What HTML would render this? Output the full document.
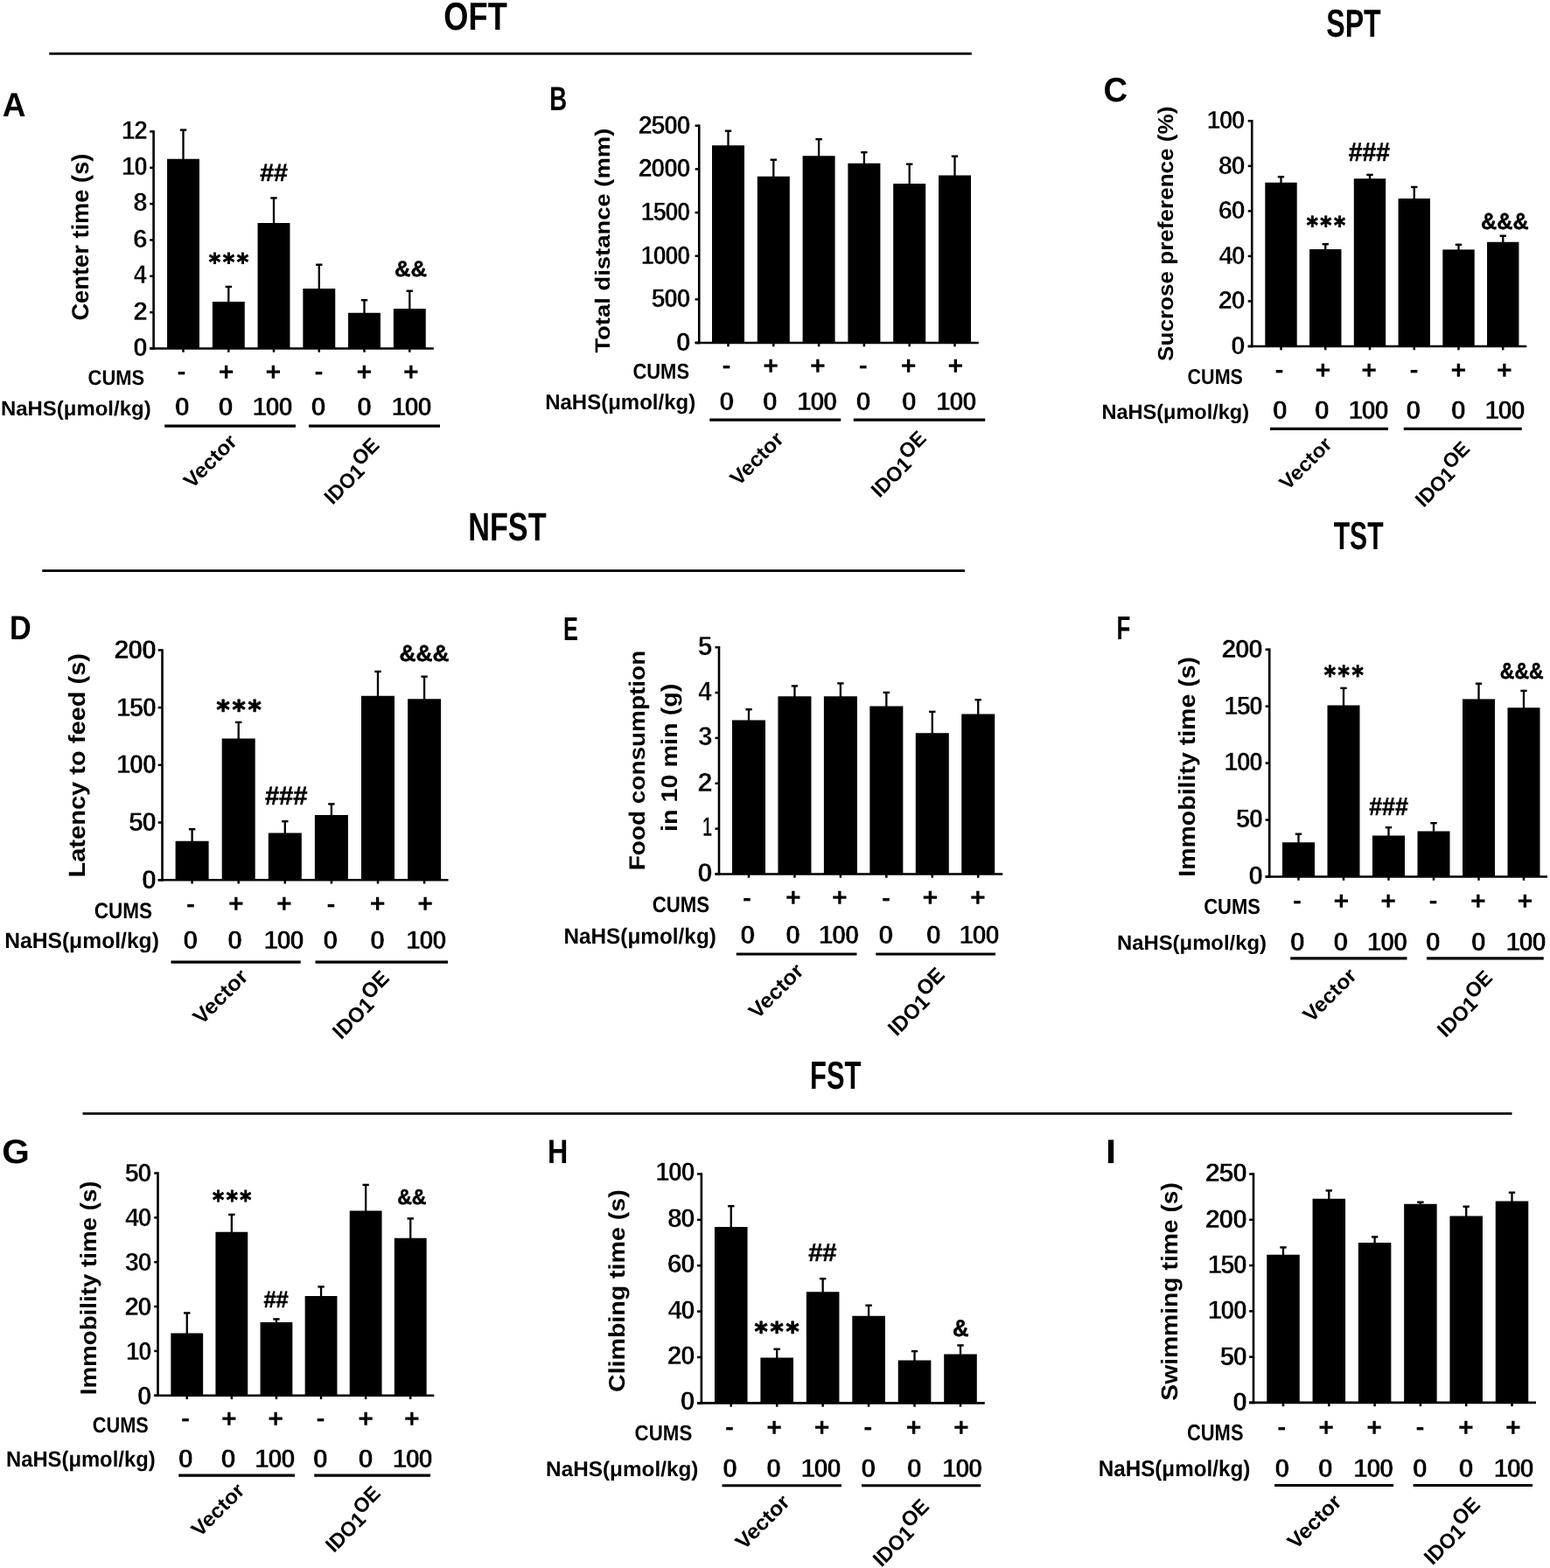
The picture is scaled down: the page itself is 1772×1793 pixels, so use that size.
<!DOCTYPE html>
<html lang="en">
<head>
<meta charset="utf-8">
<title>Behavioural tests: OFT, SPT, NFST, TST, FST</title>
<style>
html, body { margin: 0; padding: 0; background: #fff; }
body { width: 1772px; height: 1793px; }
svg { display: block; }
svg text { font-family: 'Liberation Sans', Arial, sans-serif; font-weight: bold; fill: #000; text-rendering: geometricPrecision; }
svg text.dv { font-family: 'DejaVu Sans', 'Liberation Sans', sans-serif; stroke: #000; stroke-width: 0.9px; stroke-linejoin: miter; }
svg text.an { stroke: #000; stroke-width: 0.5px; }
svg text.dg { stroke: #fff; stroke-width: 0.5px; }
svg line { stroke: #000; fill: none; }
svg rect { fill: #000; }
</style>
</head>
<body>
<svg width="1772" height="1793" viewBox="0 0 1772 1793" role="img" aria-label="Bar charts A to I: OFT, SPT, NFST, TST and FST behavioural tests">
<text transform="translate(507.35 33.65) scale(0.8116 1)" font-size="44.66">OFT</text>
<line x1="56.25" y1="61.3" x2="1110.75" y2="61.3" stroke-width="2.8"/>
<text transform="translate(1516.24 42.45) scale(0.7170 1)" font-size="44.81">SPT</text>
<text transform="translate(535.19 617.54) scale(0.7531 1)" font-size="45.51">NFST</text>
<line x1="48.25" y1="652.6" x2="1103" y2="652.6" stroke-width="2.8"/>
<text transform="translate(1524.7 628.25) scale(0.6716 1)" font-size="44.81">TST</text>
<text transform="translate(926.02 1244.75) scale(0.6871 1)" font-size="44.95">FST</text>
<line x1="94.5" y1="1273.4" x2="1728.5" y2="1273.4" stroke-width="2.8"/>
<g id="panel-A">
<line x1="175.6" y1="149.15" x2="175.6" y2="399.8" stroke-width="2.6"/>
<line x1="171.2" y1="398.5" x2="495.8" y2="398.5" stroke-width="2.6"/>
<line x1="171.2" y1="150.4" x2="175.6" y2="150.4" stroke-width="2.5"/>
<text transform="translate(139.07 158.82) scale(0.9445 1)" font-size="29.74" letter-spacing="-1.64" class="dg">12</text>
<line x1="171.2" y1="191.75" x2="175.6" y2="191.75" stroke-width="2.5"/>
<text transform="translate(139.06 199.88) scale(0.9606 1)" font-size="29.32" letter-spacing="-1.61" class="dg">10</text>
<line x1="171.2" y1="233.1" x2="175.6" y2="233.1" stroke-width="2.5"/>
<text transform="translate(152.23 241.23) scale(1.0015 1)" font-size="29.32" letter-spacing="-1.61" class="dg">8</text>
<line x1="171.2" y1="274.45" x2="175.6" y2="274.45" stroke-width="2.5"/>
<text transform="translate(152.06 282.58) scale(1.0222 1)" font-size="29.32" letter-spacing="-1.61" class="dg">6</text>
<line x1="171.2" y1="315.8" x2="175.6" y2="315.8" stroke-width="2.5"/>
<text transform="translate(152.78 324.22) scale(0.8959 1)" font-size="30.17" letter-spacing="-1.66" class="dg">4</text>
<line x1="171.2" y1="357.15" x2="175.6" y2="357.15" stroke-width="2.5"/>
<text transform="translate(152.14 365.57) scale(1.0078 1)" font-size="29.74" letter-spacing="-1.64" class="dg">2</text>
<line x1="171.2" y1="398.5" x2="175.6" y2="398.5" stroke-width="2.5"/>
<text transform="translate(151.97 406.63) scale(1.0384 1)" font-size="29.32" letter-spacing="-1.61" class="dg">0</text>
<rect x="191.05" y="181.75" width="36.9" height="216.75"/>
<line x1="209.5" y1="148.35" x2="209.5" y2="182.75" stroke-width="2.3"/>
<line x1="205.8" y1="148.6" x2="213.2" y2="148.6" stroke-width="2.4"/>
<line x1="209.5" y1="398.5" x2="209.5" y2="402.8" stroke-width="2.5"/>
<rect x="242.85" y="345" width="36.9" height="53.5"/>
<line x1="261.3" y1="327.65" x2="261.3" y2="346" stroke-width="2.3"/>
<line x1="257.6" y1="327.9" x2="265" y2="327.9" stroke-width="2.4"/>
<line x1="261.3" y1="398.5" x2="261.3" y2="402.8" stroke-width="2.5"/>
<rect x="294.55" y="255" width="36.9" height="143.5"/>
<line x1="313" y1="226.15" x2="313" y2="256" stroke-width="2.3"/>
<line x1="309.3" y1="226.4" x2="316.7" y2="226.4" stroke-width="2.4"/>
<line x1="313" y1="398.5" x2="313" y2="402.8" stroke-width="2.5"/>
<rect x="346.35" y="330" width="36.9" height="68.5"/>
<line x1="364.8" y1="302.45" x2="364.8" y2="331" stroke-width="2.3"/>
<line x1="361.1" y1="302.7" x2="368.5" y2="302.7" stroke-width="2.4"/>
<line x1="364.8" y1="398.5" x2="364.8" y2="402.8" stroke-width="2.5"/>
<rect x="398.05" y="357.75" width="36.9" height="40.75"/>
<line x1="416.5" y1="342.95" x2="416.5" y2="358.75" stroke-width="2.3"/>
<line x1="412.8" y1="343.2" x2="420.2" y2="343.2" stroke-width="2.4"/>
<line x1="416.5" y1="398.5" x2="416.5" y2="402.8" stroke-width="2.5"/>
<rect x="449.85" y="353" width="36.9" height="45.5"/>
<line x1="468.3" y1="332.45" x2="468.3" y2="354" stroke-width="2.3"/>
<line x1="464.6" y1="332.7" x2="472" y2="332.7" stroke-width="2.4"/>
<line x1="468.3" y1="398.5" x2="468.3" y2="402.8" stroke-width="2.5"/>
<text transform="translate(297.15 207.35) scale(1.0173 1)" font-size="28.24" class="an">##</text>
<text transform="translate(238.64 308.51) scale(0.9561 1)" font-size="26.88" letter-spacing="2.69" class="dv">***</text>
<text transform="translate(451.06 315.6) scale(1.0198 1)" font-size="25.2" class="an">&amp;&amp;</text>
<text transform="translate(2.67 133.3) scale(0.9603 1)" font-size="38.55">A</text>
<text transform="translate(101.19 366.59) rotate(-90) scale(1.0100 1)" font-size="27.02">Center time (s)</text>
<text transform="translate(100.62 440.06) scale(0.9084 1)" font-size="24.17">CUMS</text>
<text transform="translate(0.88 474.61) scale(1.0209 1)" font-size="23.47">NaHS(μmol/kg)</text>
<text transform="translate(202.4 434.07) scale(1.0623 1)" font-size="28.33">-</text>
<text transform="translate(249.81 434.68) scale(1.0336 1)" font-size="29.41">+</text>
<text transform="translate(303.61 434.68) scale(1.0336 1)" font-size="29.41">+</text>
<text transform="translate(359.5 434.07) scale(1.0623 1)" font-size="28.33">-</text>
<text transform="translate(407.61 434.68) scale(1.0336 1)" font-size="29.41">+</text>
<text transform="translate(461.11 434.68) scale(1.0336 1)" font-size="29.41">+</text>
<text transform="translate(199.48 475.36) scale(1.0813 1)" font-size="29.4" class="dg">0</text>
<text transform="translate(249.18 475.36) scale(1.0813 1)" font-size="29.4" class="dg">0</text>
<text transform="translate(288.37 475.36) scale(1.0240 1)" font-size="29.4" letter-spacing="-1.76" class="dg">100</text>
<text transform="translate(355.18 475.36) scale(1.0813 1)" font-size="29.4" class="dg">0</text>
<text transform="translate(407.68 475.36) scale(1.0813 1)" font-size="29.4" class="dg">0</text>
<text transform="translate(447.37 475.36) scale(1.0240 1)" font-size="29.4" letter-spacing="-1.76" class="dg">100</text>
<line x1="188.2" y1="487.1" x2="338" y2="487.1" stroke-width="3.2"/>
<line x1="353" y1="487.1" x2="503" y2="487.1" stroke-width="3.2"/>
<text transform="translate(219.43 559.43) rotate(-45) scale(1.0400 1)" font-size="23.54">Vector</text>
<text transform="translate(380.23 577.89) rotate(-45) scale(0.9720 1)" font-size="23.54">IDO1<tspan dy="-8.98">OE</tspan></text>
</g>
<g id="panel-B">
<line x1="799.25" y1="142.5" x2="799.25" y2="393.3" stroke-width="2.6"/>
<line x1="794.6" y1="392" x2="1118.75" y2="392" stroke-width="2.6"/>
<line x1="794.6" y1="143.75" x2="799.25" y2="143.75" stroke-width="2.5"/>
<text transform="translate(729.83 152.81) scale(0.9865 1)" font-size="29.4" letter-spacing="-1.62" class="dg">2500</text>
<line x1="794.6" y1="193.4" x2="799.25" y2="193.4" stroke-width="2.5"/>
<text transform="translate(729.83 202.46) scale(0.9865 1)" font-size="29.4" letter-spacing="-1.62" class="dg">2000</text>
<line x1="794.6" y1="243.05" x2="799.25" y2="243.05" stroke-width="2.5"/>
<text transform="translate(732.62 252.11) scale(0.9395 1)" font-size="29.4" letter-spacing="-1.62" class="dg">1500</text>
<line x1="794.6" y1="292.7" x2="799.25" y2="292.7" stroke-width="2.5"/>
<text transform="translate(732.62 301.76) scale(0.9395 1)" font-size="29.4" letter-spacing="-1.62" class="dg">1000</text>
<line x1="794.6" y1="342.35" x2="799.25" y2="342.35" stroke-width="2.5"/>
<text transform="translate(744.48 351.41) scale(0.9833 1)" font-size="29.4" letter-spacing="-1.62" class="dg">500</text>
<line x1="794.6" y1="392" x2="799.25" y2="392" stroke-width="2.5"/>
<text transform="translate(772.63 401.06) scale(1.0383 1)" font-size="29.4" letter-spacing="-1.62" class="dg">0</text>
<rect x="814" y="166.25" width="37" height="225.75"/>
<line x1="832.5" y1="149.45" x2="832.5" y2="167.25" stroke-width="2.3"/>
<line x1="828.8" y1="149.7" x2="836.2" y2="149.7" stroke-width="2.4"/>
<line x1="832.5" y1="392" x2="832.5" y2="396.3" stroke-width="2.5"/>
<rect x="865.8" y="201.75" width="37" height="190.25"/>
<line x1="884.3" y1="182.45" x2="884.3" y2="202.75" stroke-width="2.3"/>
<line x1="880.6" y1="182.7" x2="888" y2="182.7" stroke-width="2.4"/>
<line x1="884.3" y1="392" x2="884.3" y2="396.3" stroke-width="2.5"/>
<rect x="917.6" y="178.25" width="37" height="213.75"/>
<line x1="936.1" y1="158.95" x2="936.1" y2="179.25" stroke-width="2.3"/>
<line x1="932.4" y1="159.2" x2="939.8" y2="159.2" stroke-width="2.4"/>
<line x1="936.1" y1="392" x2="936.1" y2="396.3" stroke-width="2.5"/>
<rect x="969.4" y="186.75" width="37" height="205.25"/>
<line x1="987.9" y1="173.95" x2="987.9" y2="187.75" stroke-width="2.3"/>
<line x1="984.2" y1="174.2" x2="991.6" y2="174.2" stroke-width="2.4"/>
<line x1="987.9" y1="392" x2="987.9" y2="396.3" stroke-width="2.5"/>
<rect x="1021.2" y="210" width="37" height="182"/>
<line x1="1039.7" y1="187.45" x2="1039.7" y2="211" stroke-width="2.3"/>
<line x1="1036" y1="187.7" x2="1043.4" y2="187.7" stroke-width="2.4"/>
<line x1="1039.7" y1="392" x2="1039.7" y2="396.3" stroke-width="2.5"/>
<rect x="1073" y="200.5" width="37" height="191.5"/>
<line x1="1091.5" y1="178.45" x2="1091.5" y2="201.5" stroke-width="2.3"/>
<line x1="1087.8" y1="178.7" x2="1095.2" y2="178.7" stroke-width="2.4"/>
<line x1="1091.5" y1="392" x2="1091.5" y2="396.3" stroke-width="2.5"/>
<text transform="translate(628.34 125.5) scale(0.7145 1)" font-size="38.55">B</text>
<text transform="translate(697.16 403.62) rotate(-90) scale(1.1522 1)" font-size="23.81">Total distance (mm)</text>
<text transform="translate(723.42 432.95) scale(0.8927 1)" font-size="24.59">CUMS</text>
<text transform="translate(623.18 467.51) scale(0.9822 1)" font-size="24.43">NaHS(μmol/kg)</text>
<text transform="translate(825.5 427.07) scale(1.0623 1)" font-size="28.33">-</text>
<text transform="translate(872.36 427.68) scale(1.0336 1)" font-size="29.41">+</text>
<text transform="translate(926.11 427.68) scale(1.0336 1)" font-size="29.41">+</text>
<text transform="translate(981.75 427.07) scale(1.0623 1)" font-size="28.33">-</text>
<text transform="translate(1029.86 427.68) scale(1.0336 1)" font-size="29.41">+</text>
<text transform="translate(1083.61 427.68) scale(1.0336 1)" font-size="29.41">+</text>
<text transform="translate(822.08 469.25) scale(1.0761 1)" font-size="29.54" class="dg">0</text>
<text transform="translate(871.58 469.25) scale(1.0761 1)" font-size="29.54" class="dg">0</text>
<text transform="translate(910.97 469.25) scale(1.0191 1)" font-size="29.54" letter-spacing="-1.77" class="dg">100</text>
<text transform="translate(978.28 469.25) scale(1.0761 1)" font-size="29.54" class="dg">0</text>
<text transform="translate(1030.58 469.25) scale(1.0761 1)" font-size="29.54" class="dg">0</text>
<text transform="translate(1070.12 469.25) scale(1.0191 1)" font-size="29.54" letter-spacing="-1.77" class="dg">100</text>
<line x1="811.25" y1="480.2" x2="961.25" y2="480.2" stroke-width="3.2"/>
<line x1="975.75" y1="480.2" x2="1126.25" y2="480.2" stroke-width="3.2"/>
<text transform="translate(844.18 556.62) rotate(-45) scale(1.0400 1)" font-size="23.6">Vector</text>
<text transform="translate(1005.42 570.1) rotate(-45) scale(0.9720 1)" font-size="23.6">IDO1<tspan dy="-9">OE</tspan></text>
</g>
<g id="panel-C">
<line x1="1431.25" y1="137.05" x2="1431.25" y2="397.3" stroke-width="2.6"/>
<line x1="1426.7" y1="396" x2="1745.25" y2="396" stroke-width="2.6"/>
<line x1="1426.7" y1="138.3" x2="1431.25" y2="138.3" stroke-width="2.5"/>
<text transform="translate(1379.55 147.1) scale(0.9770 1)" font-size="28.93" letter-spacing="-1.59" class="dg">100</text>
<line x1="1426.7" y1="189.84" x2="1431.25" y2="189.84" stroke-width="2.5"/>
<text transform="translate(1392.87 198.64) scale(1.0073 1)" font-size="28.93" letter-spacing="-1.59" class="dg">80</text>
<line x1="1426.7" y1="241.38" x2="1431.25" y2="241.38" stroke-width="2.5"/>
<text transform="translate(1392.72 250.18) scale(1.0125 1)" font-size="28.93" letter-spacing="-1.59" class="dg">60</text>
<line x1="1426.7" y1="292.92" x2="1431.25" y2="292.92" stroke-width="2.5"/>
<text transform="translate(1393.38 301.72) scale(0.9897 1)" font-size="28.93" letter-spacing="-1.59" class="dg">40</text>
<line x1="1426.7" y1="344.46" x2="1431.25" y2="344.46" stroke-width="2.5"/>
<text transform="translate(1392.79 353.26) scale(1.0099 1)" font-size="28.93" letter-spacing="-1.59" class="dg">20</text>
<line x1="1426.7" y1="396" x2="1431.25" y2="396" stroke-width="2.5"/>
<text transform="translate(1406.98 404.8) scale(1.0385 1)" font-size="28.93" letter-spacing="-1.59" class="dg">0</text>
<rect x="1446.3" y="208.75" width="36.4" height="187.25"/>
<line x1="1464.5" y1="201.95" x2="1464.5" y2="209.75" stroke-width="2.3"/>
<line x1="1460.8" y1="202.2" x2="1468.2" y2="202.2" stroke-width="2.4"/>
<line x1="1464.5" y1="396" x2="1464.5" y2="400.3" stroke-width="2.5"/>
<rect x="1497.05" y="285" width="36.4" height="111"/>
<line x1="1515.25" y1="278.95" x2="1515.25" y2="286" stroke-width="2.3"/>
<line x1="1511.55" y1="279.2" x2="1518.95" y2="279.2" stroke-width="2.4"/>
<line x1="1515.25" y1="396" x2="1515.25" y2="400.3" stroke-width="2.5"/>
<rect x="1547.8" y="204.25" width="36.4" height="191.75"/>
<line x1="1566" y1="199.65" x2="1566" y2="205.25" stroke-width="2.3"/>
<line x1="1562.3" y1="199.9" x2="1569.7" y2="199.9" stroke-width="2.4"/>
<line x1="1566" y1="396" x2="1566" y2="400.3" stroke-width="2.5"/>
<rect x="1598.55" y="227" width="36.4" height="169"/>
<line x1="1616.75" y1="213.65" x2="1616.75" y2="228" stroke-width="2.3"/>
<line x1="1613.05" y1="213.9" x2="1620.45" y2="213.9" stroke-width="2.4"/>
<line x1="1616.75" y1="396" x2="1616.75" y2="400.3" stroke-width="2.5"/>
<rect x="1649.3" y="285.4" width="36.4" height="110.6"/>
<line x1="1667.5" y1="279.55" x2="1667.5" y2="286.4" stroke-width="2.3"/>
<line x1="1663.8" y1="279.8" x2="1671.2" y2="279.8" stroke-width="2.4"/>
<line x1="1667.5" y1="396" x2="1667.5" y2="400.3" stroke-width="2.5"/>
<rect x="1700.05" y="276.75" width="36.4" height="119.25"/>
<line x1="1718.25" y1="269.45" x2="1718.25" y2="277.75" stroke-width="2.3"/>
<line x1="1714.55" y1="269.7" x2="1721.95" y2="269.7" stroke-width="2.4"/>
<line x1="1718.25" y1="396" x2="1718.25" y2="400.3" stroke-width="2.5"/>
<text transform="translate(1541.65 184.35) scale(0.9447 1)" font-size="30.07" class="an">###</text>
<text transform="translate(1493.8 267) scale(0.9182 1)" font-size="27.2" letter-spacing="2.72" class="dv">***</text>
<text transform="translate(1693.08 262.09) scale(0.9589 1)" font-size="26.26" class="an">&amp;&amp;&amp;</text>
<text transform="translate(1261.47 115.71) scale(0.9859 1)" font-size="38.87">C</text>
<text transform="translate(1340.74 412.88) rotate(-90) scale(1.0596 1)" font-size="24.61">Sucrose preference (%)</text>
<text transform="translate(1357.54 438.56) scale(0.8807 1)" font-size="24.45">CUMS</text>
<text transform="translate(1259.41 478.65) scale(0.9893 1)" font-size="23.79">NaHS(μmol/kg)</text>
<text transform="translate(1457.5 432.37) scale(1.0623 1)" font-size="28.33">-</text>
<text transform="translate(1503.61 432.98) scale(1.0336 1)" font-size="29.41">+</text>
<text transform="translate(1556.36 432.98) scale(1.0336 1)" font-size="29.41">+</text>
<text transform="translate(1611.5 432.37) scale(1.0623 1)" font-size="28.33">-</text>
<text transform="translate(1658.51 432.98) scale(1.0336 1)" font-size="29.41">+</text>
<text transform="translate(1711.01 432.98) scale(1.0336 1)" font-size="29.41">+</text>
<text transform="translate(1454.58 479.35) scale(1.0659 1)" font-size="29.82" class="dg">0</text>
<text transform="translate(1502.58 479.35) scale(1.0659 1)" font-size="29.82" class="dg">0</text>
<text transform="translate(1541.27 479.35) scale(1.0094 1)" font-size="29.82" letter-spacing="-1.79" class="dg">100</text>
<text transform="translate(1607.08 479.35) scale(1.0659 1)" font-size="29.82" class="dg">0</text>
<text transform="translate(1658.58 479.35) scale(1.0659 1)" font-size="29.82" class="dg">0</text>
<text transform="translate(1697.27 479.35) scale(1.0094 1)" font-size="29.82" letter-spacing="-1.79" class="dg">100</text>
<line x1="1452.1" y1="490.4" x2="1587" y2="490.4" stroke-width="3.2"/>
<line x1="1604.75" y1="490.4" x2="1739.75" y2="490.4" stroke-width="3.2"/>
<text transform="translate(1472.02 561.59) rotate(-45) scale(1.0400 1)" font-size="23.22">Vector</text>
<text transform="translate(1627.48 580.93) rotate(-45) scale(0.9720 1)" font-size="23.22">IDO1<tspan dy="-8.85">OE</tspan></text>
</g>
<g id="panel-D">
<line x1="185.5" y1="742.15" x2="185.5" y2="1007.55" stroke-width="2.6"/>
<line x1="180.7" y1="1006.25" x2="512.5" y2="1006.25" stroke-width="2.6"/>
<line x1="180.7" y1="743.4" x2="185.5" y2="743.4" stroke-width="2.5"/>
<text transform="translate(130.24 752.82) scale(1.0397 1)" font-size="30.17" letter-spacing="-1.66" class="dg">200</text>
<line x1="180.7" y1="809.11" x2="185.5" y2="809.11" stroke-width="2.5"/>
<text transform="translate(133.09 818.53) scale(0.9775 1)" font-size="30.17" letter-spacing="-1.66" class="dg">150</text>
<line x1="180.7" y1="874.83" x2="185.5" y2="874.83" stroke-width="2.5"/>
<text transform="translate(133.09 884.25) scale(0.9775 1)" font-size="30.17" letter-spacing="-1.66" class="dg">100</text>
<line x1="180.7" y1="940.54" x2="185.5" y2="940.54" stroke-width="2.5"/>
<text transform="translate(147.07 949.96) scale(1.0051 1)" font-size="30.17" letter-spacing="-1.66" class="dg">50</text>
<line x1="180.7" y1="1006.25" x2="185.5" y2="1006.25" stroke-width="2.5"/>
<text transform="translate(161.72 1015.67) scale(1.0380 1)" font-size="30.17" letter-spacing="-1.66" class="dg">0</text>
<rect x="200.6" y="961.75" width="38" height="44.5"/>
<line x1="219.6" y1="947.95" x2="219.6" y2="962.75" stroke-width="2.3"/>
<line x1="215.9" y1="948.2" x2="223.3" y2="948.2" stroke-width="2.4"/>
<line x1="219.6" y1="1006.25" x2="219.6" y2="1010.55" stroke-width="2.5"/>
<rect x="253.7" y="844.5" width="38" height="161.75"/>
<line x1="272.7" y1="825.65" x2="272.7" y2="845.5" stroke-width="2.3"/>
<line x1="269" y1="825.9" x2="276.4" y2="825.9" stroke-width="2.4"/>
<line x1="272.7" y1="1006.25" x2="272.7" y2="1010.55" stroke-width="2.5"/>
<rect x="306.8" y="952.5" width="38" height="53.75"/>
<line x1="325.8" y1="938.95" x2="325.8" y2="953.5" stroke-width="2.3"/>
<line x1="322.1" y1="939.2" x2="329.5" y2="939.2" stroke-width="2.4"/>
<line x1="325.8" y1="1006.25" x2="325.8" y2="1010.55" stroke-width="2.5"/>
<rect x="359.9" y="932" width="38" height="74.25"/>
<line x1="378.9" y1="919.15" x2="378.9" y2="933" stroke-width="2.3"/>
<line x1="375.2" y1="919.4" x2="382.6" y2="919.4" stroke-width="2.4"/>
<line x1="378.9" y1="1006.25" x2="378.9" y2="1010.55" stroke-width="2.5"/>
<rect x="413" y="795.75" width="38" height="210.5"/>
<line x1="432" y1="767.65" x2="432" y2="796.75" stroke-width="2.3"/>
<line x1="428.3" y1="767.9" x2="435.7" y2="767.9" stroke-width="2.4"/>
<line x1="432" y1="1006.25" x2="432" y2="1010.55" stroke-width="2.5"/>
<rect x="466.1" y="799.25" width="38" height="207"/>
<line x1="485.1" y1="773.45" x2="485.1" y2="800.25" stroke-width="2.3"/>
<line x1="481.4" y1="773.7" x2="488.8" y2="773.7" stroke-width="2.4"/>
<line x1="485.1" y1="1006.25" x2="485.1" y2="1010.55" stroke-width="2.5"/>
<text transform="translate(247.47 821.5) scale(0.9712 1)" font-size="29.89" letter-spacing="2.99" class="dv">***</text>
<text transform="translate(302.89 919.85) scale(0.9821 1)" font-size="29.71" class="an">###</text>
<text transform="translate(456.53 755.84) scale(1.0044 1)" font-size="26.26" class="an">&amp;&amp;&amp;</text>
<text transform="translate(10.89 731) scale(0.8929 1)" font-size="38.4">D</text>
<text transform="translate(96.6 1003.56) rotate(-90) scale(1.0965 1)" font-size="26.49">Latency to feed (s)</text>
<text transform="translate(107.65 1049.95) scale(0.8919 1)" font-size="25.3">CUMS</text>
<text transform="translate(5.13 1084.34) scale(0.9778 1)" font-size="25.23">NaHS(μmol/kg)</text>
<text transform="translate(212.9 1042.67) scale(1.0623 1)" font-size="28.33">-</text>
<text transform="translate(261.11 1043.28) scale(1.0336 1)" font-size="29.41">+</text>
<text transform="translate(316.11 1043.28) scale(1.0336 1)" font-size="29.41">+</text>
<text transform="translate(373.4 1042.67) scale(1.0623 1)" font-size="28.33">-</text>
<text transform="translate(422.86 1043.28) scale(1.0336 1)" font-size="29.41">+</text>
<text transform="translate(477.36 1043.28) scale(1.0336 1)" font-size="29.41">+</text>
<text transform="translate(209.08 1084.95) scale(1.0710 1)" font-size="29.68" class="dg">0</text>
<text transform="translate(259.68 1084.95) scale(1.0710 1)" font-size="29.68" class="dg">0</text>
<text transform="translate(301.37 1084.95) scale(1.0142 1)" font-size="29.68" letter-spacing="-1.78" class="dg">100</text>
<text transform="translate(369.08 1084.95) scale(1.0710 1)" font-size="29.68" class="dg">0</text>
<text transform="translate(422.68 1084.95) scale(1.0710 1)" font-size="29.68" class="dg">0</text>
<text transform="translate(464.12 1084.95) scale(1.0142 1)" font-size="29.68" letter-spacing="-1.78" class="dg">100</text>
<line x1="195.5" y1="1100.2" x2="343.75" y2="1100.2" stroke-width="3.2"/>
<line x1="360.5" y1="1100.2" x2="512" y2="1100.2" stroke-width="3.2"/>
<text transform="translate(230.41 1172.82) rotate(-45) scale(1.0400 1)" font-size="24.24">Vector</text>
<text transform="translate(390.03 1189.47) rotate(-45) scale(0.9720 1)" font-size="24.24">IDO1<tspan dy="-9.24">OE</tspan></text>
</g>
<g id="panel-E">
<line x1="822" y1="738.95" x2="822" y2="1000.8" stroke-width="2.6"/>
<line x1="817.5" y1="999.5" x2="1146.25" y2="999.5" stroke-width="2.6"/>
<line x1="817.5" y1="740.2" x2="822" y2="740.2" stroke-width="2.5"/>
<text transform="translate(797.67 748.62) scale(0.9771 1)" font-size="30.61" letter-spacing="-1.68" class="dg">5</text>
<line x1="817.5" y1="792.06" x2="822" y2="792.06" stroke-width="2.5"/>
<text transform="translate(798.15 800.78) scale(0.8956 1)" font-size="31.05" letter-spacing="-1.71" class="dg">4</text>
<line x1="817.5" y1="843.92" x2="822" y2="843.92" stroke-width="2.5"/>
<text transform="translate(797.9 852.27) scale(0.9946 1)" font-size="30.07" letter-spacing="-1.65" class="dg">3</text>
<line x1="817.5" y1="895.78" x2="822" y2="895.78" stroke-width="2.5"/>
<text transform="translate(797.49 904.5) scale(1.0075 1)" font-size="30.61" letter-spacing="-1.68" class="dg">2</text>
<line x1="817.5" y1="947.64" x2="822" y2="947.64" stroke-width="2.5"/>
<text transform="translate(802.98 956.36) scale(0.6392 1)" font-size="31.05" letter-spacing="-1.71" class="dg">1</text>
<line x1="817.5" y1="999.5" x2="822" y2="999.5" stroke-width="2.5"/>
<text transform="translate(797.32 1007.92) scale(1.0380 1)" font-size="30.17" letter-spacing="-1.66" class="dg">0</text>
<rect x="837" y="823.5" width="38" height="176"/>
<line x1="856" y1="810.95" x2="856" y2="824.5" stroke-width="2.3"/>
<line x1="852.3" y1="811.2" x2="859.7" y2="811.2" stroke-width="2.4"/>
<line x1="856" y1="999.5" x2="856" y2="1003.8" stroke-width="2.5"/>
<rect x="889.45" y="796.25" width="38" height="203.25"/>
<line x1="908.45" y1="784.15" x2="908.45" y2="797.25" stroke-width="2.3"/>
<line x1="904.75" y1="784.4" x2="912.15" y2="784.4" stroke-width="2.4"/>
<line x1="908.45" y1="999.5" x2="908.45" y2="1003.8" stroke-width="2.5"/>
<rect x="941.9" y="796.25" width="38" height="203.25"/>
<line x1="960.9" y1="781.15" x2="960.9" y2="797.25" stroke-width="2.3"/>
<line x1="957.2" y1="781.4" x2="964.6" y2="781.4" stroke-width="2.4"/>
<line x1="960.9" y1="999.5" x2="960.9" y2="1003.8" stroke-width="2.5"/>
<rect x="994.35" y="807.5" width="38" height="192"/>
<line x1="1013.35" y1="791.65" x2="1013.35" y2="808.5" stroke-width="2.3"/>
<line x1="1009.65" y1="791.9" x2="1017.05" y2="791.9" stroke-width="2.4"/>
<line x1="1013.35" y1="999.5" x2="1013.35" y2="1003.8" stroke-width="2.5"/>
<rect x="1046.8" y="838.25" width="38" height="161.25"/>
<line x1="1065.8" y1="813.65" x2="1065.8" y2="839.25" stroke-width="2.3"/>
<line x1="1062.1" y1="813.9" x2="1069.5" y2="813.9" stroke-width="2.4"/>
<line x1="1065.8" y1="999.5" x2="1065.8" y2="1003.8" stroke-width="2.5"/>
<rect x="1099.25" y="816.5" width="38" height="183"/>
<line x1="1118.25" y1="799.95" x2="1118.25" y2="817.5" stroke-width="2.3"/>
<line x1="1114.55" y1="800.2" x2="1121.95" y2="800.2" stroke-width="2.4"/>
<line x1="1118.25" y1="999.5" x2="1118.25" y2="1003.8" stroke-width="2.5"/>
<text transform="translate(644.03 732.2) scale(0.6703 1)" font-size="37.96">E</text>
<text transform="translate(736.83 995.24) rotate(-90) scale(1.0999 1)" font-size="25.42">Food consumption</text>
<text transform="translate(774.11 951.12) rotate(-90) scale(1.1159 1)" font-size="25.81">in 10 min (g)</text>
<text transform="translate(745.66 1042.95) scale(0.8781 1)" font-size="25.3">CUMS</text>
<text transform="translate(644.41 1078.59) scale(0.9652 1)" font-size="25.23">NaHS(μmol/kg)</text>
<text transform="translate(849 1035.87) scale(1.0623 1)" font-size="28.33">-</text>
<text transform="translate(898.11 1036.48) scale(1.0336 1)" font-size="29.41">+</text>
<text transform="translate(951.11 1036.48) scale(1.0336 1)" font-size="29.41">+</text>
<text transform="translate(1007.9 1035.87) scale(1.0623 1)" font-size="28.33">-</text>
<text transform="translate(1054.61 1036.48) scale(1.0336 1)" font-size="29.41">+</text>
<text transform="translate(1109.01 1036.48) scale(1.0336 1)" font-size="29.41">+</text>
<text transform="translate(845.93 1079.25) scale(1.0710 1)" font-size="29.68" class="dg">0</text>
<text transform="translate(897.68 1079.25) scale(1.0710 1)" font-size="29.68" class="dg">0</text>
<text transform="translate(935.77 1079.25) scale(1.0142 1)" font-size="29.68" letter-spacing="-1.78" class="dg">100</text>
<text transform="translate(1003.93 1079.25) scale(1.0710 1)" font-size="29.68" class="dg">0</text>
<text transform="translate(1058.43 1079.25) scale(1.0710 1)" font-size="29.68" class="dg">0</text>
<text transform="translate(1096.37 1079.25) scale(1.0142 1)" font-size="29.68" letter-spacing="-1.78" class="dg">100</text>
<line x1="841.75" y1="1091" x2="979.5" y2="1091" stroke-width="3.2"/>
<line x1="1001.25" y1="1091" x2="1138" y2="1091" stroke-width="3.2"/>
<text transform="translate(865.69 1166.27) rotate(-45) scale(1.0400 1)" font-size="24.24">Vector</text>
<text transform="translate(1025.03 1185.77) rotate(-45) scale(0.9720 1)" font-size="24.24">IDO1<tspan dy="-9.24">OE</tspan></text>
</g>
<g id="panel-F">
<line x1="1451.25" y1="741.45" x2="1451.25" y2="1003.8" stroke-width="2.6"/>
<line x1="1446.6" y1="1002.5" x2="1769" y2="1002.5" stroke-width="2.6"/>
<line x1="1446.6" y1="742.7" x2="1451.25" y2="742.7" stroke-width="2.5"/>
<text transform="translate(1396.48 751.56) scale(1.0394 1)" font-size="29.4" letter-spacing="-1.62" class="dg">200</text>
<line x1="1446.6" y1="807.65" x2="1451.25" y2="807.65" stroke-width="2.5"/>
<text transform="translate(1399.25 816.51) scale(0.9772 1)" font-size="29.4" letter-spacing="-1.62" class="dg">150</text>
<line x1="1446.6" y1="872.6" x2="1451.25" y2="872.6" stroke-width="2.5"/>
<text transform="translate(1399.25 881.46) scale(0.9772 1)" font-size="29.4" letter-spacing="-1.62" class="dg">100</text>
<line x1="1446.6" y1="937.55" x2="1451.25" y2="937.55" stroke-width="2.5"/>
<text transform="translate(1412.86 946.41) scale(1.0049 1)" font-size="29.4" letter-spacing="-1.62" class="dg">50</text>
<line x1="1446.6" y1="1002.5" x2="1451.25" y2="1002.5" stroke-width="2.5"/>
<text transform="translate(1427.13 1011.36) scale(1.0383 1)" font-size="29.4" letter-spacing="-1.62" class="dg">0</text>
<rect x="1466" y="963.25" width="37" height="39.25"/>
<line x1="1484.5" y1="953.45" x2="1484.5" y2="964.25" stroke-width="2.3"/>
<line x1="1480.8" y1="953.7" x2="1488.2" y2="953.7" stroke-width="2.4"/>
<line x1="1484.5" y1="1002.5" x2="1484.5" y2="1006.8" stroke-width="2.5"/>
<rect x="1517.5" y="806.5" width="37" height="196"/>
<line x1="1536" y1="786.65" x2="1536" y2="807.5" stroke-width="2.3"/>
<line x1="1532.3" y1="786.9" x2="1539.7" y2="786.9" stroke-width="2.4"/>
<line x1="1536" y1="1002.5" x2="1536" y2="1006.8" stroke-width="2.5"/>
<rect x="1569" y="955.5" width="37" height="47"/>
<line x1="1587.5" y1="945.95" x2="1587.5" y2="956.5" stroke-width="2.3"/>
<line x1="1583.8" y1="946.2" x2="1591.2" y2="946.2" stroke-width="2.4"/>
<line x1="1587.5" y1="1002.5" x2="1587.5" y2="1006.8" stroke-width="2.5"/>
<rect x="1620.5" y="950.5" width="37" height="52"/>
<line x1="1639" y1="940.95" x2="1639" y2="951.5" stroke-width="2.3"/>
<line x1="1635.3" y1="941.2" x2="1642.7" y2="941.2" stroke-width="2.4"/>
<line x1="1639" y1="1002.5" x2="1639" y2="1006.8" stroke-width="2.5"/>
<rect x="1672" y="799.4" width="37" height="203.1"/>
<line x1="1690.5" y1="781.45" x2="1690.5" y2="800.4" stroke-width="2.3"/>
<line x1="1686.8" y1="781.7" x2="1694.2" y2="781.7" stroke-width="2.4"/>
<line x1="1690.5" y1="1002.5" x2="1690.5" y2="1006.8" stroke-width="2.5"/>
<rect x="1723.5" y="809.25" width="37" height="193.25"/>
<line x1="1742" y1="789.65" x2="1742" y2="810.25" stroke-width="2.3"/>
<line x1="1738.3" y1="789.9" x2="1745.7" y2="789.9" stroke-width="2.4"/>
<line x1="1742" y1="1002.5" x2="1742" y2="1006.8" stroke-width="2.5"/>
<text transform="translate(1513.79 782.45) scale(0.8818 1)" font-size="28.82" letter-spacing="2.88" class="dv">***</text>
<text transform="translate(1565.18 932.35) scale(0.9226 1)" font-size="28.97" class="an">###</text>
<text transform="translate(1714.77 775.59) scale(0.8910 1)" font-size="25.91" class="an">&amp;&amp;&amp;</text>
<text transform="translate(1276.44 731) scale(0.6851 1)" font-size="37.96">F</text>
<text transform="translate(1365.85 1002.77) rotate(-90) scale(1.0760 1)" font-size="26.49">Immobility time (s)</text>
<text transform="translate(1376.22 1045.15) scale(0.8826 1)" font-size="24.88">CUMS</text>
<text transform="translate(1276.89 1085.59) scale(1.0133 1)" font-size="23.57">NaHS(μmol/kg)</text>
<text transform="translate(1478 1038.92) scale(1.0623 1)" font-size="28.33">-</text>
<text transform="translate(1524.51 1039.53) scale(1.0336 1)" font-size="29.41">+</text>
<text transform="translate(1578.21 1039.53) scale(1.0336 1)" font-size="29.41">+</text>
<text transform="translate(1633.4 1038.92) scale(1.0623 1)" font-size="28.33">-</text>
<text transform="translate(1681.11 1039.53) scale(1.0336 1)" font-size="29.41">+</text>
<text transform="translate(1734.51 1039.53) scale(1.0336 1)" font-size="29.41">+</text>
<text transform="translate(1474.58 1086.75) scale(1.0659 1)" font-size="29.82" class="dg">0</text>
<text transform="translate(1523.93 1086.75) scale(1.0659 1)" font-size="29.82" class="dg">0</text>
<text transform="translate(1562.87 1086.75) scale(1.0094 1)" font-size="29.82" letter-spacing="-1.79" class="dg">100</text>
<text transform="translate(1629.58 1086.75) scale(1.0659 1)" font-size="29.82" class="dg">0</text>
<text transform="translate(1681.43 1086.75) scale(1.0659 1)" font-size="29.82" class="dg">0</text>
<text transform="translate(1721.37 1086.75) scale(1.0094 1)" font-size="29.82" letter-spacing="-1.79" class="dg">100</text>
<line x1="1475.25" y1="1095.9" x2="1608.5" y2="1095.9" stroke-width="3.2"/>
<line x1="1631" y1="1095.9" x2="1764.75" y2="1095.9" stroke-width="3.2"/>
<text transform="translate(1499.2 1170) rotate(-45) scale(1.0400 1)" font-size="23.6">Vector</text>
<text transform="translate(1652.75 1187.2) rotate(-45) scale(0.9720 1)" font-size="23.6">IDO1<tspan dy="-9">OE</tspan></text>
</g>
<g id="panel-G">
<line x1="180.5" y1="1340.25" x2="180.5" y2="1597.05" stroke-width="2.6"/>
<line x1="176.25" y1="1595.75" x2="496.25" y2="1595.75" stroke-width="2.6"/>
<line x1="176.25" y1="1341.5" x2="180.5" y2="1341.5" stroke-width="2.5"/>
<text transform="translate(142.62 1351.3) scale(1.0049 1)" font-size="29.24" letter-spacing="-1.61" class="dg">50</text>
<line x1="176.25" y1="1392.35" x2="180.5" y2="1392.35" stroke-width="2.5"/>
<text transform="translate(143.07 1402.15) scale(0.9898 1)" font-size="29.24" letter-spacing="-1.61" class="dg">40</text>
<line x1="176.25" y1="1443.2" x2="180.5" y2="1443.2" stroke-width="2.5"/>
<text transform="translate(142.85 1452.93) scale(1.0008 1)" font-size="29.14" letter-spacing="-1.6" class="dg">30</text>
<line x1="176.25" y1="1494.05" x2="180.5" y2="1494.05" stroke-width="2.5"/>
<text transform="translate(142.47 1503.85) scale(1.0100 1)" font-size="29.24" letter-spacing="-1.61" class="dg">20</text>
<line x1="176.25" y1="1544.9" x2="180.5" y2="1544.9" stroke-width="2.5"/>
<text transform="translate(143.94 1554.7) scale(0.9606 1)" font-size="29.24" letter-spacing="-1.61" class="dg">10</text>
<line x1="176.25" y1="1595.75" x2="180.5" y2="1595.75" stroke-width="2.5"/>
<text transform="translate(156.81 1605.55) scale(1.0384 1)" font-size="29.24" letter-spacing="-1.61" class="dg">0</text>
<rect x="195.35" y="1524.5" width="36.8" height="71.25"/>
<line x1="213.75" y1="1501.15" x2="213.75" y2="1525.5" stroke-width="2.3"/>
<line x1="210.05" y1="1501.4" x2="217.45" y2="1501.4" stroke-width="2.4"/>
<line x1="213.75" y1="1595.75" x2="213.75" y2="1600.05" stroke-width="2.5"/>
<rect x="246.45" y="1408.75" width="36.8" height="187"/>
<line x1="264.85" y1="1388.65" x2="264.85" y2="1409.75" stroke-width="2.3"/>
<line x1="261.15" y1="1388.9" x2="268.55" y2="1388.9" stroke-width="2.4"/>
<line x1="264.85" y1="1595.75" x2="264.85" y2="1600.05" stroke-width="2.5"/>
<rect x="297.55" y="1512" width="36.8" height="83.75"/>
<line x1="315.95" y1="1508.15" x2="315.95" y2="1513" stroke-width="2.3"/>
<line x1="312.25" y1="1508.4" x2="319.65" y2="1508.4" stroke-width="2.4"/>
<line x1="315.95" y1="1595.75" x2="315.95" y2="1600.05" stroke-width="2.5"/>
<rect x="348.65" y="1482" width="36.8" height="113.75"/>
<line x1="367.05" y1="1471.15" x2="367.05" y2="1483" stroke-width="2.3"/>
<line x1="363.35" y1="1471.4" x2="370.75" y2="1471.4" stroke-width="2.4"/>
<line x1="367.05" y1="1595.75" x2="367.05" y2="1600.05" stroke-width="2.5"/>
<rect x="399.75" y="1384.5" width="36.8" height="211.25"/>
<line x1="418.15" y1="1354.65" x2="418.15" y2="1385.5" stroke-width="2.3"/>
<line x1="414.45" y1="1354.9" x2="421.85" y2="1354.9" stroke-width="2.4"/>
<line x1="418.15" y1="1595.75" x2="418.15" y2="1600.05" stroke-width="2.5"/>
<rect x="450.85" y="1415.75" width="36.8" height="180"/>
<line x1="469.25" y1="1393.15" x2="469.25" y2="1416.75" stroke-width="2.3"/>
<line x1="465.55" y1="1393.4" x2="472.95" y2="1393.4" stroke-width="2.4"/>
<line x1="469.25" y1="1595.75" x2="469.25" y2="1600.05" stroke-width="2.5"/>
<text transform="translate(243.05 1381.55) scale(0.8884 1)" font-size="28.28" letter-spacing="2.83" class="dv">***</text>
<text transform="translate(301.45 1495.35) scale(0.9518 1)" font-size="26.76" class="an">##</text>
<text transform="translate(454.17 1376.61) scale(0.9451 1)" font-size="24.48" class="an">&amp;&amp;</text>
<text transform="translate(2.28 1329.61) scale(1.0481 1)" font-size="38.73">G</text>
<text transform="translate(110.47 1595.22) rotate(-90) scale(1.0684 1)" font-size="25.95">Immobility time (s)</text>
<text transform="translate(105.68 1637.95) scale(0.8731 1)" font-size="24.95">CUMS</text>
<text transform="translate(6.94 1676.84) scale(0.9441 1)" font-size="25.23">NaHS(μmol/kg)</text>
<text transform="translate(206.9 1631.42) scale(1.0623 1)" font-size="28.33">-</text>
<text transform="translate(253.01 1632.03) scale(1.0336 1)" font-size="29.41">+</text>
<text transform="translate(306.36 1632.03) scale(1.0336 1)" font-size="29.41">+</text>
<text transform="translate(361.5 1631.42) scale(1.0623 1)" font-size="28.33">-</text>
<text transform="translate(409.21 1632.03) scale(1.0336 1)" font-size="29.41">+</text>
<text transform="translate(462.11 1632.03) scale(1.0336 1)" font-size="29.41">+</text>
<text transform="translate(203.58 1677.95) scale(1.0659 1)" font-size="29.82" class="dg">0</text>
<text transform="translate(252.28 1677.95) scale(1.0659 1)" font-size="29.82" class="dg">0</text>
<text transform="translate(291.12 1677.95) scale(1.0094 1)" font-size="29.82" letter-spacing="-1.79" class="dg">100</text>
<text transform="translate(357.58 1677.95) scale(1.0659 1)" font-size="29.82" class="dg">0</text>
<text transform="translate(409.28 1677.95) scale(1.0659 1)" font-size="29.82" class="dg">0</text>
<text transform="translate(448.47 1677.95) scale(1.0094 1)" font-size="29.82" letter-spacing="-1.79" class="dg">100</text>
<line x1="204.25" y1="1687.2" x2="337" y2="1687.2" stroke-width="3.2"/>
<line x1="359.25" y1="1687.2" x2="492" y2="1687.2" stroke-width="3.2"/>
<text transform="translate(228.18 1758.57) rotate(-45) scale(1.0400 1)" font-size="23.47">Vector</text>
<text transform="translate(381.74 1776.36) rotate(-45) scale(0.9720 1)" font-size="23.47">IDO1<tspan dy="-8.95">OE</tspan></text>
</g>
<g id="panel-H">
<line x1="801.9" y1="1341.15" x2="801.9" y2="1605.7" stroke-width="2.6"/>
<line x1="797" y1="1604.4" x2="1125.75" y2="1604.4" stroke-width="2.6"/>
<line x1="797" y1="1342.4" x2="801.9" y2="1342.4" stroke-width="2.5"/>
<text transform="translate(749.16 1350.32) scale(0.9774 1)" font-size="29.86" letter-spacing="-1.64" class="dg">100</text>
<line x1="797" y1="1394.8" x2="801.9" y2="1394.8" stroke-width="2.5"/>
<text transform="translate(762.91 1402.72) scale(1.0076 1)" font-size="29.86" letter-spacing="-1.64" class="dg">80</text>
<line x1="797" y1="1447.2" x2="801.9" y2="1447.2" stroke-width="2.5"/>
<text transform="translate(762.75 1455.12) scale(1.0127 1)" font-size="29.86" letter-spacing="-1.64" class="dg">60</text>
<line x1="797" y1="1499.6" x2="801.9" y2="1499.6" stroke-width="2.5"/>
<text transform="translate(763.44 1507.52) scale(0.9899 1)" font-size="29.86" letter-spacing="-1.64" class="dg">40</text>
<line x1="797" y1="1552" x2="801.9" y2="1552" stroke-width="2.5"/>
<text transform="translate(762.83 1559.92) scale(1.0101 1)" font-size="29.86" letter-spacing="-1.64" class="dg">20</text>
<line x1="797" y1="1604.4" x2="801.9" y2="1604.4" stroke-width="2.5"/>
<text transform="translate(777.48 1612.32) scale(1.0382 1)" font-size="29.86" letter-spacing="-1.64" class="dg">0</text>
<rect x="816.95" y="1403" width="37.6" height="201.4"/>
<line x1="835.75" y1="1378.95" x2="835.75" y2="1404" stroke-width="2.3"/>
<line x1="832.05" y1="1379.2" x2="839.45" y2="1379.2" stroke-width="2.4"/>
<line x1="835.75" y1="1604.4" x2="835.75" y2="1608.7" stroke-width="2.5"/>
<rect x="869.4" y="1552.5" width="37.6" height="51.9"/>
<line x1="888.2" y1="1542.45" x2="888.2" y2="1553.5" stroke-width="2.3"/>
<line x1="884.5" y1="1542.7" x2="891.9" y2="1542.7" stroke-width="2.4"/>
<line x1="888.2" y1="1604.4" x2="888.2" y2="1608.7" stroke-width="2.5"/>
<rect x="921.85" y="1477.25" width="37.6" height="127.15"/>
<line x1="940.65" y1="1461.95" x2="940.65" y2="1478.25" stroke-width="2.3"/>
<line x1="936.95" y1="1462.2" x2="944.35" y2="1462.2" stroke-width="2.4"/>
<line x1="940.65" y1="1604.4" x2="940.65" y2="1608.7" stroke-width="2.5"/>
<rect x="974.3" y="1504.75" width="37.6" height="99.65"/>
<line x1="993.1" y1="1492.45" x2="993.1" y2="1505.75" stroke-width="2.3"/>
<line x1="989.4" y1="1492.7" x2="996.8" y2="1492.7" stroke-width="2.4"/>
<line x1="993.1" y1="1604.4" x2="993.1" y2="1608.7" stroke-width="2.5"/>
<rect x="1026.75" y="1555.5" width="37.6" height="48.9"/>
<line x1="1045.55" y1="1544.85" x2="1045.55" y2="1556.5" stroke-width="2.3"/>
<line x1="1041.85" y1="1545.1" x2="1049.25" y2="1545.1" stroke-width="2.4"/>
<line x1="1045.55" y1="1604.4" x2="1045.55" y2="1608.7" stroke-width="2.5"/>
<rect x="1079.2" y="1548.5" width="37.6" height="55.9"/>
<line x1="1098" y1="1538.15" x2="1098" y2="1549.5" stroke-width="2.3"/>
<line x1="1094.3" y1="1538.4" x2="1101.7" y2="1538.4" stroke-width="2.4"/>
<line x1="1098" y1="1604.4" x2="1098" y2="1608.7" stroke-width="2.5"/>
<text transform="translate(924.14 1442.35) scale(1.0075 1)" font-size="28.97" class="an">##</text>
<text transform="translate(862.47 1532.75) scale(0.9712 1)" font-size="29.89" letter-spacing="2.99" class="dv">***</text>
<text transform="translate(1089.05 1527.58) scale(0.9561 1)" font-size="26.98" class="an">&amp;</text>
<text transform="translate(626.12 1329.6) scale(0.8337 1)" font-size="38.69">H</text>
<text transform="translate(714.11 1591.99) rotate(-90) scale(1.1071 1)" font-size="25.81">Climbing time (s)</text>
<text transform="translate(725.61 1647.45) scale(0.8966 1)" font-size="24.88">CUMS</text>
<text transform="translate(624.06 1688.35) scale(1.0052 1)" font-size="24.21">NaHS(μmol/kg)</text>
<text transform="translate(829 1640.92) scale(1.0623 1)" font-size="28.33">-</text>
<text transform="translate(876.36 1641.53) scale(1.0336 1)" font-size="29.41">+</text>
<text transform="translate(930.86 1641.53) scale(1.0336 1)" font-size="29.41">+</text>
<text transform="translate(987.25 1640.92) scale(1.0623 1)" font-size="28.33">-</text>
<text transform="translate(1035.86 1641.53) scale(1.0336 1)" font-size="29.41">+</text>
<text transform="translate(1090.11 1641.53) scale(1.0336 1)" font-size="29.41">+</text>
<text transform="translate(825.78 1688.75) scale(1.0659 1)" font-size="29.82" class="dg">0</text>
<text transform="translate(875.78 1688.75) scale(1.0659 1)" font-size="29.82" class="dg">0</text>
<text transform="translate(915.37 1688.75) scale(1.0094 1)" font-size="29.82" letter-spacing="-1.79" class="dg">100</text>
<text transform="translate(983.93 1688.75) scale(1.0659 1)" font-size="29.82" class="dg">0</text>
<text transform="translate(1036.58 1688.75) scale(1.0659 1)" font-size="29.82" class="dg">0</text>
<text transform="translate(1076.97 1688.75) scale(1.0094 1)" font-size="29.82" letter-spacing="-1.79" class="dg">100</text>
<line x1="825.5" y1="1698.75" x2="962" y2="1698.75" stroke-width="3.2"/>
<line x1="985" y1="1698.75" x2="1121.25" y2="1698.75" stroke-width="3.2"/>
<text transform="translate(850.52 1773.03) rotate(-45) scale(1.0400 1)" font-size="23.98">Vector</text>
<text transform="translate(1007.77 1792.84) rotate(-45) scale(0.9720 1)" font-size="23.98">IDO1<tspan dy="-9.15">OE</tspan></text>
</g>
<g id="panel-I">
<line x1="1433" y1="1341.25" x2="1433" y2="1605.2" stroke-width="2.6"/>
<line x1="1428.1" y1="1603.9" x2="1756" y2="1603.9" stroke-width="2.6"/>
<line x1="1428.1" y1="1342.5" x2="1433" y2="1342.5" stroke-width="2.5"/>
<text transform="translate(1377.86 1351.49) scale(1.0395 1)" font-size="29.79" letter-spacing="-1.64" class="dg">250</text>
<line x1="1428.1" y1="1394.78" x2="1433" y2="1394.78" stroke-width="2.5"/>
<text transform="translate(1377.86 1403.77) scale(1.0395 1)" font-size="29.79" letter-spacing="-1.64" class="dg">200</text>
<line x1="1428.1" y1="1447.06" x2="1433" y2="1447.06" stroke-width="2.5"/>
<text transform="translate(1380.67 1456.05) scale(0.9773 1)" font-size="29.79" letter-spacing="-1.64" class="dg">150</text>
<line x1="1428.1" y1="1499.34" x2="1433" y2="1499.34" stroke-width="2.5"/>
<text transform="translate(1380.67 1508.33) scale(0.9773 1)" font-size="29.79" letter-spacing="-1.64" class="dg">100</text>
<line x1="1428.1" y1="1551.62" x2="1433" y2="1551.62" stroke-width="2.5"/>
<text transform="translate(1394.47 1560.61) scale(1.0050 1)" font-size="29.79" letter-spacing="-1.64" class="dg">50</text>
<line x1="1428.1" y1="1603.9" x2="1433" y2="1603.9" stroke-width="2.5"/>
<text transform="translate(1408.92 1612.89) scale(1.0382 1)" font-size="29.79" letter-spacing="-1.64" class="dg">0</text>
<rect x="1448.25" y="1434.75" width="37.5" height="169.15"/>
<line x1="1467" y1="1426.15" x2="1467" y2="1435.75" stroke-width="2.3"/>
<line x1="1463.3" y1="1426.4" x2="1470.7" y2="1426.4" stroke-width="2.4"/>
<line x1="1467" y1="1603.9" x2="1467" y2="1608.2" stroke-width="2.5"/>
<rect x="1500.55" y="1370.75" width="37.5" height="233.15"/>
<line x1="1519.3" y1="1361.15" x2="1519.3" y2="1371.75" stroke-width="2.3"/>
<line x1="1515.6" y1="1361.4" x2="1523" y2="1361.4" stroke-width="2.4"/>
<line x1="1519.3" y1="1603.9" x2="1519.3" y2="1608.2" stroke-width="2.5"/>
<rect x="1552.85" y="1421" width="37.5" height="182.9"/>
<line x1="1571.6" y1="1414.15" x2="1571.6" y2="1422" stroke-width="2.3"/>
<line x1="1567.9" y1="1414.4" x2="1575.3" y2="1414.4" stroke-width="2.4"/>
<line x1="1571.6" y1="1603.9" x2="1571.6" y2="1608.2" stroke-width="2.5"/>
<rect x="1605.15" y="1376.75" width="37.5" height="227.15"/>
<line x1="1623.9" y1="1374.45" x2="1623.9" y2="1377.75" stroke-width="2.3"/>
<line x1="1620.2" y1="1374.7" x2="1627.6" y2="1374.7" stroke-width="2.4"/>
<line x1="1623.9" y1="1603.9" x2="1623.9" y2="1608.2" stroke-width="2.5"/>
<rect x="1657.45" y="1390.5" width="37.5" height="213.4"/>
<line x1="1676.2" y1="1379.45" x2="1676.2" y2="1391.5" stroke-width="2.3"/>
<line x1="1672.5" y1="1379.7" x2="1679.9" y2="1379.7" stroke-width="2.4"/>
<line x1="1676.2" y1="1603.9" x2="1676.2" y2="1608.2" stroke-width="2.5"/>
<rect x="1709.75" y="1373.5" width="37.5" height="230.4"/>
<line x1="1728.5" y1="1363.45" x2="1728.5" y2="1374.5" stroke-width="2.3"/>
<line x1="1724.8" y1="1363.7" x2="1732.2" y2="1363.7" stroke-width="2.4"/>
<line x1="1728.5" y1="1603.9" x2="1728.5" y2="1608.2" stroke-width="2.5"/>
<text transform="translate(1263.96 1329.6) scale(1.1245 1)" font-size="38.69">I</text>
<text transform="translate(1345.75 1601.7) rotate(-90) scale(1.0728 1)" font-size="26.35">Swimming time (s)</text>
<text transform="translate(1356.92 1647.44) scale(0.8442 1)" font-size="26.01">CUMS</text>
<text transform="translate(1255.66 1687.73) scale(0.9410 1)" font-size="25.76">NaHS(μmol/kg)</text>
<text transform="translate(1460.25 1641.17) scale(1.0623 1)" font-size="28.33">-</text>
<text transform="translate(1507.36 1641.78) scale(1.0336 1)" font-size="29.41">+</text>
<text transform="translate(1562.36 1641.78) scale(1.0336 1)" font-size="29.41">+</text>
<text transform="translate(1618.4 1641.17) scale(1.0623 1)" font-size="28.33">-</text>
<text transform="translate(1667.01 1641.78) scale(1.0336 1)" font-size="29.41">+</text>
<text transform="translate(1721.11 1641.78) scale(1.0336 1)" font-size="29.41">+</text>
<text transform="translate(1457.08 1688.65) scale(1.0710 1)" font-size="29.68" class="dg">0</text>
<text transform="translate(1506.58 1688.65) scale(1.0710 1)" font-size="29.68" class="dg">0</text>
<text transform="translate(1546.97 1688.65) scale(1.0142 1)" font-size="29.68" letter-spacing="-1.78" class="dg">100</text>
<text transform="translate(1614.58 1688.65) scale(1.0710 1)" font-size="29.68" class="dg">0</text>
<text transform="translate(1667.28 1688.65) scale(1.0710 1)" font-size="29.68" class="dg">0</text>
<text transform="translate(1707.47 1688.65) scale(1.0142 1)" font-size="29.68" letter-spacing="-1.78" class="dg">100</text>
<line x1="1457.1" y1="1698.5" x2="1593.1" y2="1698.5" stroke-width="3.2"/>
<line x1="1615.6" y1="1698.5" x2="1752" y2="1698.5" stroke-width="3.2"/>
<text transform="translate(1481.45 1772.57) rotate(-45) scale(1.0400 1)" font-size="23.92">Vector</text>
<text transform="translate(1637.7 1790.61) rotate(-45) scale(0.9720 1)" font-size="23.92">IDO1<tspan dy="-9.12">OE</tspan></text>
</g>
</svg>
</body>
</html>
